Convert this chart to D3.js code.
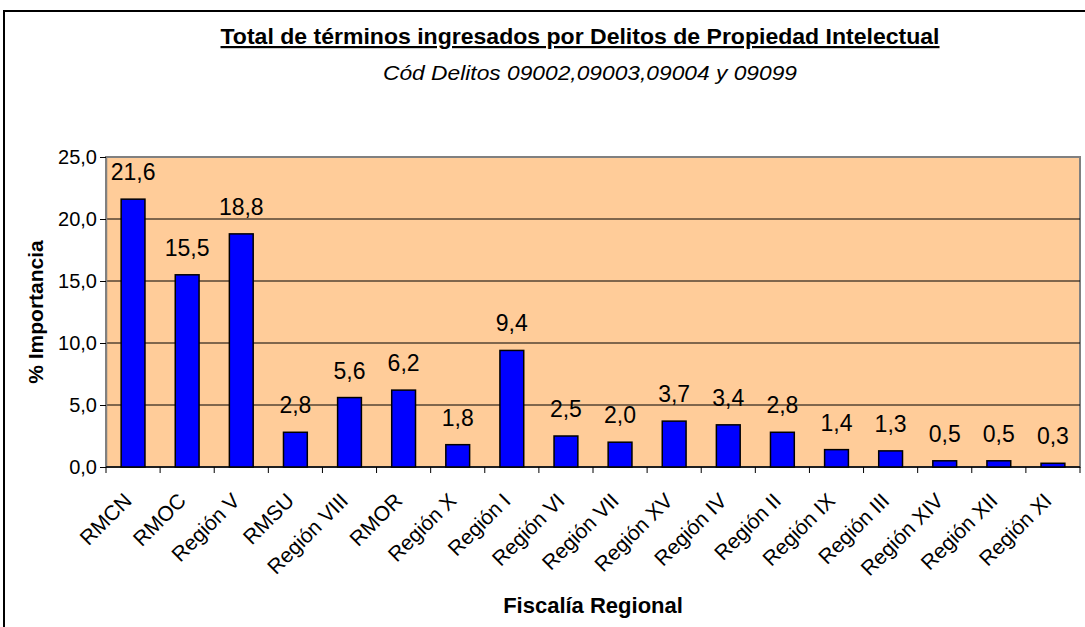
<!DOCTYPE html>
<html>
<head>
<meta charset="utf-8">
<script src="https://cdn.jsdelivr.net/npm/d3@7"></script>
<style>
  html, body { margin: 0; padding: 0; background: #fff; }
  svg { display: block; font-family: Arial, "Liberation Sans", sans-serif; }
</style>
</head>
<body>
<script>
var regions = ["RMCN", "RMOC", "Región V", "RMSU", "Región VIII", "RMOR", "Región X", "Región I",
  "Región VI", "Región VII", "Región XV", "Región IV", "Región II", "Región IX", "Región III",
  "Región XIV", "Región XII", "Región XI"];
var importancia = [21.6, 15.5, 18.8, 2.8, 5.6, 6.2, 1.8, 9.4, 2.5, 2.0, 3.7, 3.4, 2.8, 1.4, 1.3, 0.5, 0.5, 0.3];
var yTicks = [0, 5, 10, 15, 20, 25];

var width = 1085, height = 627;
var margin = {top: 157, right: 5, bottom: 160, left: 106};

var svg = d3.select("body").append("svg")
    .attr("width", width)
    .attr("height", height);

// outer chart frame
svg.append("rect")
    .attr("x", 4).attr("y", 11)
    .attr("width", width + 10).attr("height", height + 10)
    .attr("fill", "#fff")
    .attr("stroke", "#000")
    .attr("stroke-width", 2);

var x = d3.scaleBand()
    .domain(regions)
    .range([margin.left, width - margin.right])
    .paddingInner(0.56)
    .paddingOuter(0.28);

var y = d3.scaleLinear()
    .domain([0, 25])
    .range([height - margin.bottom, margin.top]);

var fmt = function(v) { return d3.format(".1f")(v).replace(".", ","); };

// plot background
svg.append("rect")
    .attr("x", margin.left).attr("y", margin.top)
    .attr("width", width - margin.right - margin.left)
    .attr("height", y(0) - margin.top)
    .attr("fill", "#FFCC99")
    .attr("stroke", "#808080")
    .attr("stroke-width", 2);

// gridlines
svg.append("g")
  .selectAll("line")
  .data(yTicks.filter(function(d) { return d > 0 && d < 25; }))
  .enter().append("line")
    .attr("x1", margin.left).attr("x2", width - margin.right)
    .attr("y1", function(d) { return y(d); })
    .attr("y2", function(d) { return y(d); })
    .attr("stroke", "#000")
    .attr("stroke-width", 1);

// y axis
var yAxis = svg.append("g")
    .attr("transform", "translate(" + margin.left + ",0)")
    .call(d3.axisLeft(y).tickValues(yTicks).tickFormat(fmt).tickSize(6).tickSizeOuter(0));
yAxis.select(".domain").attr("stroke", "#808080").attr("stroke-width", 1.5);
yAxis.selectAll(".tick line").attr("stroke", "#000");
yAxis.selectAll("text")
    .attr("font-size", 20)
    .attr("font-family", "Arial, 'Liberation Sans', sans-serif")
    .attr("fill", "#000")
    .attr("x", -9);

// x axis: ticks at category boundaries
var step = x.step();
var bounds = d3.range(regions.length + 1).map(function(i) { return margin.left + i * step; });
var xg = svg.append("g");
xg.append("line")
    .attr("x1", margin.left).attr("x2", width - margin.right)
    .attr("y1", y(0)).attr("y2", y(0))
    .attr("stroke", "#000").attr("stroke-width", 1.5);
xg.selectAll(".btick")
  .data(bounds)
  .enter().append("line")
    .attr("class", "btick")
    .attr("x1", function(d) { return d; }).attr("x2", function(d) { return d; })
    .attr("y1", y(0)).attr("y2", y(0) + 6)
    .attr("stroke", "#000");

xg.selectAll(".xlabel")
  .data(regions)
  .enter().append("text")
    .attr("class", "xlabel")
    .attr("text-anchor", "end")
    .attr("font-size", 21)
    .attr("transform", function(d) {
      return "translate(" + (x(d) + x.bandwidth() / 2) + "," + (y(0) + 35) + ") rotate(-45)";
    })
    .text(function(d) { return d; });

// bars
svg.append("g")
  .selectAll("rect")
  .data(importancia)
  .enter().append("rect")
    .attr("x", function(d, i) { return x(regions[i]); })
    .attr("y", function(d) { return y(d); })
    .attr("width", x.bandwidth())
    .attr("height", function(d) { return y(0) - y(d); })
    .attr("fill", "#0000FF")
    .attr("stroke", "#000")
    .attr("stroke-width", 1.5);

// value labels
svg.append("g")
  .selectAll("text")
  .data(importancia)
  .enter().append("text")
    .attr("x", function(d, i) { return x(regions[i]) + x.bandwidth() / 2; })
    .attr("y", function(d) { return y(d) - 19; })
    .attr("text-anchor", "middle")
    .attr("font-size", 23)
    .text(fmt);

// titles
svg.append("text")
    .attr("x", 580).attr("y", 44)
    .attr("text-anchor", "middle")
    .attr("font-size", 22)
    .attr("font-weight", "bold")
    .attr("text-decoration", "underline")
    .attr("textLength", 719)
    .attr("lengthAdjust", "spacingAndGlyphs")
    .text("Total de términos ingresados por Delitos de Propiedad Intelectual");

svg.append("text")
    .attr("x", 590).attr("y", 80)
    .attr("text-anchor", "middle")
    .attr("font-size", 21)
    .attr("font-style", "italic")
    .attr("textLength", 414)
    .attr("lengthAdjust", "spacingAndGlyphs")
    .text("Cód Delitos 09002,09003,09004 y 09099");

svg.append("text")
    .attr("transform", "translate(43," + ((margin.top + y(0)) / 2) + ") rotate(-90)")
    .attr("text-anchor", "middle")
    .attr("font-size", 21)
    .attr("font-weight", "bold")
    .text("% Importancia");

svg.append("text")
    .attr("x", 593).attr("y", 613)
    .attr("text-anchor", "middle")
    .attr("font-size", 22)
    .attr("font-weight", "bold")
    .text("Fiscalía Regional");
</script>
</body>
</html>
